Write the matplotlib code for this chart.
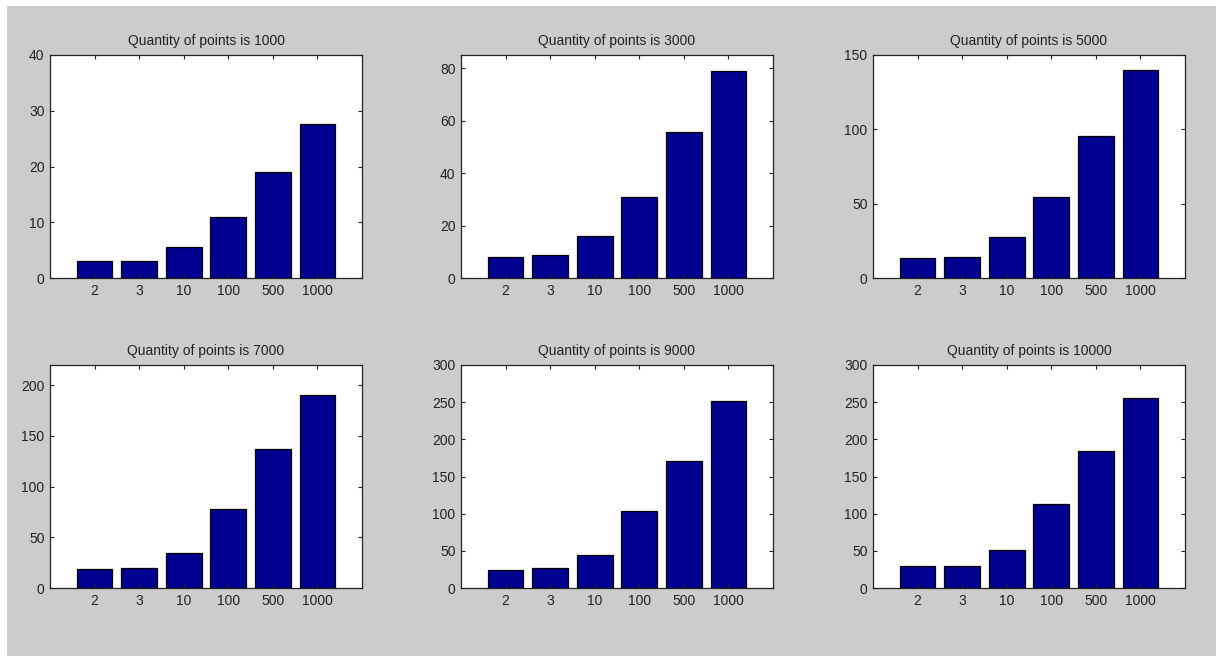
"""Bar grid: running time against cluster count for several point quantities."""

import matplotlib.pyplot as plt
from matplotlib.patches import Rectangle

plt.rcParams["font.family"] = ["Liberation Sans", "DejaVu Sans"]

cluster_labels = ["2", "3", "10", "100", "500", "1000"]
point_counts = [1000, 3000, 5000, 7000, 9000, 10000]

values_1000 = [3.05, 3.05, 5.6, 10.95, 19.0, 27.7]
values_3000 = [8.1, 8.9, 15.9, 30.9, 55.5, 78.9]
values_5000 = [13.5, 14.3, 27.4, 54.5, 95.7, 139.7]
values_7000 = [19.0, 20.0, 35.0, 77.9, 137.2, 190.8]
values_9000 = [24.7, 27.4, 44.4, 103.6, 170.4, 251.1]
values_10000 = [29.1, 29.1, 50.7, 113.0, 184.7, 255.2]

y_limits = [40, 85, 150, 220, 300, 300]
y_ticks = [
    [0, 10, 20, 30, 40],
    [0, 20, 40, 60, 80],
    [0, 50, 100, 150],
    [0, 50, 100, 150, 200],
    [0, 50, 100, 150, 200, 250, 300],
    [0, 50, 100, 150, 200, 250, 300],
]

BAR_COLOR = "#000090"
PANEL_GRAY = "#cccccc"
INK = "#222222"

W, H = 1221, 657
fig = plt.figure(figsize=(W / 100, H / 100), dpi=100, facecolor="white")
fig.patches.append(
    Rectangle((7 / W, 1 - 656 / H), (1216 - 7) / W, (656 - 6) / H,
              transform=fig.transFigure, facecolor=PANEL_GRAY, edgecolor="none", zorder=-10)
)

col_left = [50, 461, 873]
col_width = 312
row_top = [55, 365]
ax_height = 223

series = [values_1000, values_3000, values_5000, values_7000, values_9000, values_10000]
positions = list(range(1, len(cluster_labels) + 1))

for index, (count, values) in enumerate(zip(point_counts, series)):
    row, col = divmod(index, 3)
    left = col_left[col] / W
    bottom = 1 - (row_top[row] + ax_height) / H
    ax = fig.add_axes([left, bottom, col_width / W, ax_height / H])
    ax.bar(positions, values, width=0.8, color=BAR_COLOR, edgecolor="black", linewidth=0.9)
    ax.set_xlim(0, len(cluster_labels) + 1)
    ax.set_ylim(0, y_limits[index])
    ax.set_xticks(positions)
    ax.set_xticklabels(cluster_labels)
    ax.set_yticks(y_ticks[index])
    ax.tick_params(direction="in", length=3, width=0.8, color=INK, labelsize=10,
                   labelcolor=INK, top=True, right=True, pad=4)
    for spine in ax.spines.values():
        spine.set_color(INK)
        spine.set_linewidth(0.9)
    ax.set_title(f"Quantity of points is {count}", fontsize=10, color=INK, pad=7)

fig.savefig("out.png", dpi=100, facecolor=fig.get_facecolor())
